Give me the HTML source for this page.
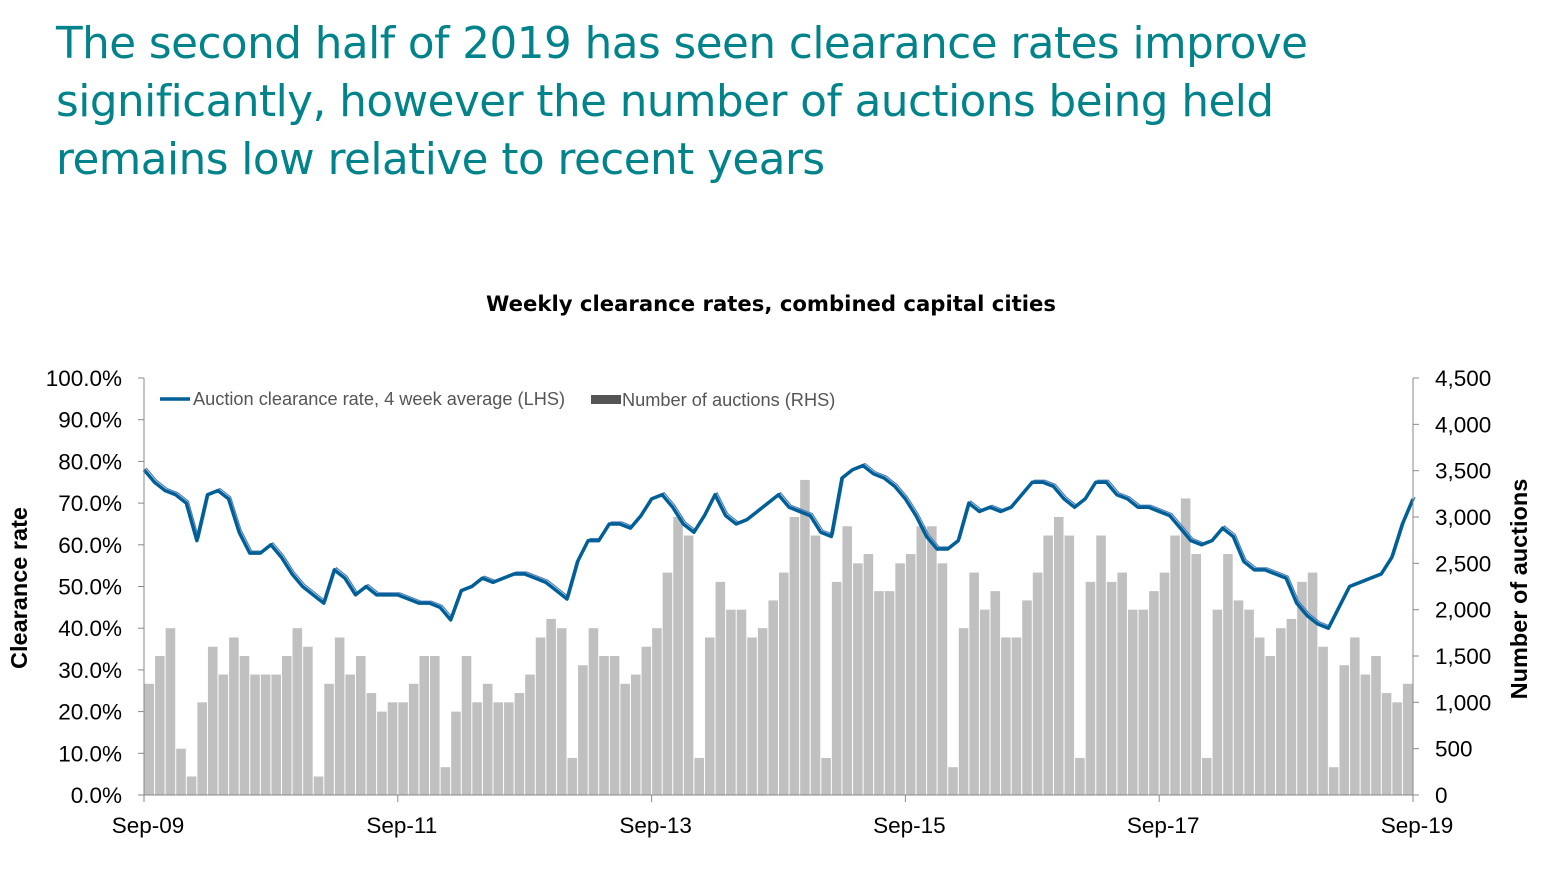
<!DOCTYPE html>
<html><head><meta charset="utf-8"><style>
body{margin:0;background:#fff;width:1545px;height:877px;overflow:hidden;font-family:"Liberation Sans",sans-serif}
#headline{position:absolute;left:56px;top:15px;margin:0;font-weight:normal;font-size:43.6px;line-height:58px;color:#00838a;font-family:"DejaVu Sans","Liberation Sans",sans-serif;letter-spacing:-0.5px}
</style></head><body>
<h1 id="headline">The second half of 2019 has seen clearance rates improve<br>significantly, however the number of auctions being held<br>remains low relative to recent years</h1>
<svg id="chart" width="1545" height="877" style="position:absolute;left:0;top:0" font-family="Liberation Sans, sans-serif"></svg>
<script>
const auctions=[1200,1500,1800,500,200,1000,1600,1300,1700,1500,1300,1300,
1300,1500,1800,1600,200,1200,1700,1300,1500,1100,900,1000,
1000,1200,1500,1500,300,900,1500,1000,1200,1000,1000,1100,
1300,1700,1900,1800,400,1400,1800,1500,1500,1200,1300,1600,
1800,2400,3000,2800,400,1700,2300,2000,2000,1700,1800,2100,
2400,3000,3400,2800,400,2300,2900,2500,2600,2200,2200,2500,
2600,2900,2900,2500,300,1800,2400,2000,2200,1700,1700,2100,
2400,2800,3000,2800,400,2300,2800,2300,2400,2000,2000,2200,
2400,2800,3200,2600,400,2000,2600,2100,2000,1700,1500,1800,
1900,2300,2400,1600,300,1400,1700,1300,1500,1100,1000,1200];
const clearance=[78,75,73,72,70,61,72,73,71,63,58,58,60,57,53,50,48,46,54,52,48,50,48,48,
48,47,46,46,45,42,49,50,52,51,52,53,53,52,51,49,47,56,61,61,65,65,64,67,
71,72,69,65,63,67,72,67,65,66,68,70,72,69,68,67,63,62,76,78,79,77,76,74,
71,67,62,59,59,61,70,68,69,68,69,72,75,75,74,71,69,71,75,75,72,71,69,69,
68,67,64,61,60,61,64,62,56,54,54,53,52,46,43,41,40,45,50,51,52,53,57,65,71];
const leftTicks=["0.0%","10.0%","20.0%","30.0%","40.0%","50.0%","60.0%","70.0%","80.0%","90.0%","100.0%"];
const rightTicks=["0","500","1,000","1,500","2,000","2,500","3,000","3,500","4,000","4,500"];
const xTicks=["Sep-09","Sep-11","Sep-13","Sep-15","Sep-17","Sep-19"];
const svg=document.getElementById('chart');const NS='http://www.w3.org/2000/svg';
const X0=144,X1=1413,Y0=795,Y1=378,NM=120;
const xm=i=>X0+(X1-X0)*i/NM;
const yL=v=>Y0-(Y0-Y1)*v/100;
const yR=v=>Y0-(Y0-Y1)*v/4500;
function mk(t,a,txt){const e=document.createElementNS(NS,t);for(const k in a)e.setAttribute(k,a[k]);if(txt!==undefined)e.textContent=txt;svg.appendChild(e);return e;}
let e;
e=mk('text',{x:771,y:311,'text-anchor':'middle','font-size':21.2,'font-weight':'bold','font-family':'DejaVu Sans, sans-serif'},'Weekly clearance rates, combined capital cities');


auctions.forEach((v,i)=>{const b=mk('rect',{x:xm(i)+0.5,y:yR(v),width:(X1-X0)/NM-1,height:Y0-yR(v),fill:'#c0c0c0'});

});
const pts=clearance.map((v,i)=>xm(i)+','+yL(v)).join(' ');
e=mk('polyline',{points:pts,fill:'none',stroke:'#4a7fc0','stroke-width':1.2,transform:'translate(2,-2)'});


e=mk('polyline',{points:pts,fill:'none',stroke:'#005f96','stroke-width':3.5,'stroke-linejoin':'round'});


mk('line',{x1:X0,y1:Y1,x2:X0,y2:Y0,stroke:'#888'});
mk('line',{x1:X1,y1:Y1,x2:X1,y2:Y0,stroke:'#888'});
mk('line',{x1:X0,y1:Y0,x2:X1,y2:Y0,stroke:'#888'});
leftTicks.forEach((t,i)=>{const y=yL(i*10);mk('line',{x1:X0-6,y1:y,x2:X0,y2:y,stroke:'#888'});
const l=mk('text',{x:122,y:y+8,'text-anchor':'end','font-size':22.5},t);

});
rightTicks.forEach((t,i)=>{const y=yR(i*500);mk('line',{x1:X1,y1:y,x2:X1+6,y2:y,stroke:'#888'});
const l=mk('text',{x:1435,y:y+8,'font-size':22.5},t);

});
xTicks.forEach((t,i)=>{const x=X0+(X1-X0)*i/5;mk('line',{x1:x,y1:Y0,x2:x,y2:Y0+7,stroke:'#888'});
const l=mk('text',{x:x+4,y:833,'text-anchor':'middle','font-size':22.5},t);

});
e=mk('text',{x:0,y:0,transform:'translate(27,588) rotate(-90)','text-anchor':'middle','font-size':23.5,'font-weight':'bold'},'Clearance rate');


e=mk('text',{x:0,y:0,transform:'translate(1527,589) rotate(-90)','text-anchor':'middle','font-size':23.5,'font-weight':'bold'},'Number of auctions');


mk('line',{x1:160,y1:399,x2:190,y2:399,stroke:'#005f96','stroke-width':3.5});
e=mk('text',{x:193,y:405,'font-size':18.2,fill:'#555'},'Auction clearance rate, 4 week average (LHS)');


mk('rect',{x:591,y:395,width:30,height:9,fill:'#555'});
e=mk('text',{x:622,y:406,'font-size':18.2,fill:'#555'},'Number of auctions (RHS)');


</script></body></html>
